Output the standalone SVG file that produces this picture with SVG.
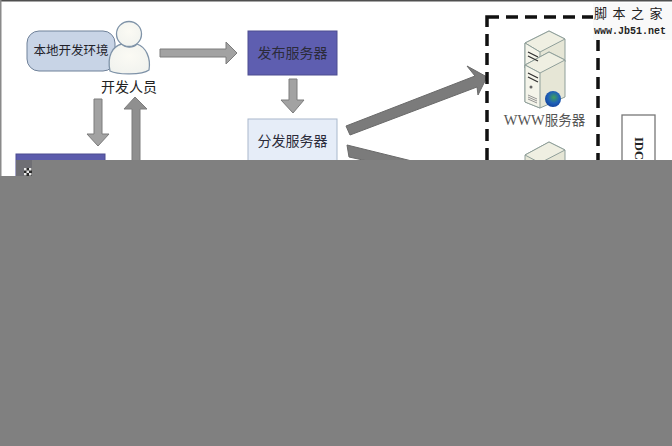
<svg xmlns="http://www.w3.org/2000/svg" width="672" height="446" viewBox="0 0 672 446">
<defs>
<style>
.cjk{font-family:"Noto Sans CJK SC","Liberation Serif",sans-serif;text-anchor:middle}
.lbl{font-size:14px;fill:#2b2b3a}
.arrow{fill:#a2a2a2;stroke:#7c7c7c;stroke-width:1}
.bigarrow{fill:#7b7b7b;stroke:#6a6a6a;stroke-width:1}
.case{fill:#e6e6d6;stroke:#8f9f9a;stroke-width:1;stroke-linejoin:round}
.top{fill:#efefe2;stroke:#8f9f9a;stroke-width:1;stroke-linejoin:round}
.side{fill:#f4f4ea;stroke:#8f9f9a;stroke-width:1;stroke-linejoin:round}
</style>
<radialGradient id="globe" cx="0.55" cy="0.4" r="0.65">
<stop offset="0" stop-color="#3fa05c"/><stop offset="0.55" stop-color="#1f62b8"/><stop offset="1" stop-color="#123f9a"/>
</radialGradient>
<radialGradient id="skin" cx="0.5" cy="0.4" r="0.7">
<stop offset="0" stop-color="#fbfaf4"/><stop offset="1" stop-color="#f0f2ee"/>
</radialGradient>
</defs>
<rect width="672" height="446" fill="#ffffff"/>
<rect x="0" y="0" width="672" height="1.5" fill="#4f4f4f"/>
<rect x="0" y="0" width="1.5" height="176" fill="#8a8a8a"/>

<g id="connectors">
<polygon class="arrow" points="160,49 226,49 226,42 237,53 226,64 226,57 160,57"/>
<polygon class="arrow" points="289,79 297,79 297,100 304,100 293,113 281,100 289,100"/>
<polygon class="arrow" points="94,99 102,99 102,134 109,134 98,146 87,134 94,134"/>
<polygon class="arrow" style="fill:#8f8f8f" points="132,172 132,109 124,109 135,97 147,109 140,109 140,172"/>
<polygon class="bigarrow" points="346,126 475,76 467,66 487,77 478,95 477,87 350,135"/>
<polygon class="bigarrow" points="347,145 420,163 418,172 349,157"/>
</g>

<g id="node-local-env">
<rect x="27" y="31" width="88" height="40" rx="12" fill="#c8d4e6" stroke="#6f8199" stroke-width="1"/>
<text class="cjk" x="71" y="55" font-size="12.5" fill="#22222a">本地开发环境</text>
</g>

<g id="node-developer">
<path d="M110,71 C107,57 112,46 122,44 C126,48 133,48 137,44 C146,47 151,58 149,70 C142,75 118,75 110,71 Z" fill="url(#skin)" stroke="#7f93a8" stroke-width="1.300"/>
<circle cx="129" cy="34" r="12.500" fill="url(#skin)" stroke="#7f93a8" stroke-width="1.300"/>
<text class="cjk lbl" x="129" y="92" style="fill:#222">开发人员</text>
</g>

<g id="node-publish">
<rect x="248" y="31" width="89" height="44" fill="#5e5eb0" stroke="#4c4c90" stroke-width="1"/>
<text class="cjk lbl" x="292.500" y="58">发布服务器</text>
</g>

<g id="node-distribute">
<rect x="248" y="119" width="89" height="55" fill="#e6edf8" stroke="#a9b8cc" stroke-width="1"/>
<text class="cjk lbl" x="292.500" y="146">分发服务器</text>
</g>

<g id="node-left">
<rect x="16" y="154" width="89" height="24" fill="#5c5cac" stroke="#4c4c90" stroke-width="1"/>
</g>

<g id="node-group-box">
<rect x="487" y="17" width="111" height="160" fill="none" stroke="#111" stroke-width="3.500" stroke-dasharray="12 7"/>
</g>

<g id="node-www">
<polygon class="case" points="525,43 549,31 565,39 565,62 540,75 525,68"/>
<polygon class="top" points="525,43 549,31 565,39 540,52"/>
<polygon class="side" points="525,43 540,52 540,75 525,68"/>
<polygon class="case" points="525,65 549,52 565,60 565,97 540,108 525,102"/>
<polygon class="top" points="525,65 549,52 565,60 540,73"/>
<polygon class="side" points="525,65 540,73 540,108 525,102"/>
<path d="M528,52 L538,57 M528,56 L538,61 M528,73 L538,78 M528,77 L538,82" stroke="#333" stroke-width="1.300" fill="none"/>
<circle cx="531" cy="87" r="1.500" fill="#666"/>
<path d="M528,95 L537,99 M528,97 L537,101 M528,99 L537,103" stroke="#8a8a8a" stroke-width="0.900" fill="none"/>
<circle cx="553" cy="99" r="8" fill="url(#globe)"/>
<text x="544.500" y="125" text-anchor="middle" font-size="14.500" fill="#555" font-family="'Liberation Serif','Noto Sans CJK SC',serif">WWW<tspan font-family="'Noto Sans CJK SC',serif" font-size="13.500">服务器</tspan></text>
</g>

<g id="node-server-2">
<polygon class="case" points="525,155 549,142 565,150 565,180 525,180"/>
<polygon class="top" points="525,155 549,142 565,150 540,163"/>
</g>

<g id="node-idc">
<rect x="622" y="115" width="33" height="70" fill="#fff" stroke="#777" stroke-width="1.300"/>
<text transform="translate(635,137) rotate(90)" font-size="12.500" font-weight="bold" fill="#222" font-family="'Liberation Serif',serif">IDC</text>
</g>

<g id="watermark">
<rect x="593" y="3" width="79" height="37" fill="#f9f9f9"/>
<text class="cjk" x="631" y="18" font-size="13" fill="#222" letter-spacing="5.500">脚本之家</text>
<text x="594" y="34" font-size="10" font-weight="bold" fill="#222" font-family="'Liberation Mono',monospace">www.Jb51.net</text>
</g>

<polygon points="0,176 32,176 32,160 672,160 672,446 0,446" fill="#808080"/>
<rect x="16" y="160" width="16" height="16" fill="#6f6f74"/>
<rect x="24" y="168" width="8" height="8" fill="#2a2a2a"/>
<path d="M24,168 h2.500 v2.500 h-2.500 Z M29,168 h2.500 v2.500 h-2.500 Z M26.500,170.500 h2.500 v2.500 h-2.500 Z M24,173 h2.500 v2.500 h-2.500 Z M29,173 h2.500 v2.500 h-2.500 Z" fill="#e8e8e8"/>
</svg>
